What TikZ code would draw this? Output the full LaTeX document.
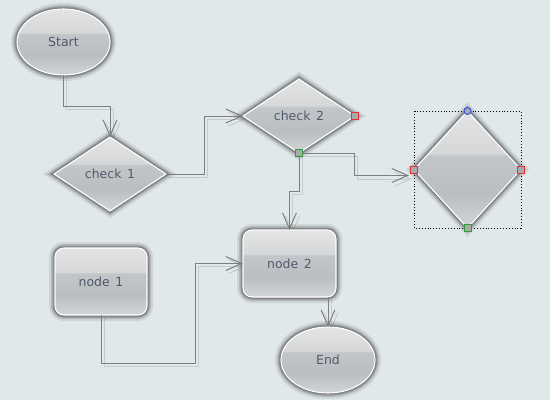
\documentclass[tikz,border=0pt]{standalone}
\usepackage{fontspec}
\setmainfont{DejaVu Sans}
\usetikzlibrary{shapes.geometric,arrows.meta,calc}
\definecolor{bg}{HTML}{E0E8EA}
\definecolor{gB}{HTML}{D2D5D7}
\definecolor{gM}{HTML}{BBBEC1}
\definecolor{gM2}{HTML}{C3C6C9}
\definecolor{gT2}{HTML}{D5D7D9}
\definecolor{gT}{HTML}{E3E4E5}
\definecolor{txt}{HTML}{505A6C}
\definecolor{lnc}{HTML}{7E8080}
\definecolor{lsh}{HTML}{C6CCCD}
\definecolor{hred}{HTML}{E03535}
\definecolor{hgreen}{HTML}{2F9A3A}
\definecolor{hblue}{HTML}{3A4FE0}
\definecolor{hfill}{HTML}{A8AAAC}
\pgfdeclareverticalshading{gloss}{100bp}{color(0bp)=(gB); color(25bp)=(gB); color(40bp)=(gM); color(56bp)=(gM2); color(57bp)=(gT2); color(75bp)=(gT); color(100bp)=(gT)}
\tikzset{
  glow/.style={preaction={draw=black!80, draw opacity=0.10, line width=12pt},
               preaction={draw=black!80, draw opacity=0.18, line width=8pt},
               preaction={draw=black!80, draw opacity=0.28, line width=5pt},
               preaction={draw=black!80, draw opacity=0.30, line width=2.5pt}},
  gshape/.style={glow, shading=gloss, draw=white, line width=1.1pt, text=txt,
                 font=\fontsize{12.5}{14}\selectfont, inner sep=0pt, outer sep=0pt},
  ellnode/.style={gshape, ellipse, minimum width=93pt, minimum height=66pt},
  dianode/.style={gshape, diamond, minimum width=112pt, minimum height=74pt},
  recnode/.style={gshape, rectangle, rounded corners=9pt, minimum width=92pt, minimum height=67pt},
  conn/.style={draw=lnc, line width=1pt, -{Straight Barb[length=16pt,width=14pt]}},
  cshadow/.style={draw=lsh, line width=1pt, -{Straight Barb[length=16pt,width=14pt]},
                  transform canvas={xshift=3pt,yshift=-3pt}},
  hsq/.style={draw=#1, line width=1pt, fill=hfill, minimum size=7pt, inner sep=0pt, rectangle},
  hci/.style={draw=#1, line width=1pt, fill=hfill, minimum size=7pt, inner sep=0pt, circle},
}
\begin{document}
\begin{tikzpicture}[x=1pt,y=-1pt]
\useasboundingbox (0,0) rectangle (550,400);
\fill[bg] (0,0) rectangle (550,400);

% connector shadows
\draw[cshadow] (63.5,75) -- ++(0,31) -| (110,137);
\draw[cshadow] (166,174) -- ++(38,0) |- (243,116);
\draw[cshadow] (299,153) -- ++(0,38) -| (289.5,230);
\draw[cshadow] (299,153) -- ++(55,0) |- (409,176);
\draw[cshadow] (101,315) -- ++(0,48) -- ++(94,0) |- (243,263.5);
\draw[cshadow] (328,297) -- (328,327);

% nodes
\node[ellnode] (start) at (63.5,42) {Start};
\node[dianode] (c1) at (110,174) {check\hspace{0.45em}1};
\node[dianode] (c2) at (299,116) {check\hspace{0.45em}2};
\node[dianode, minimum width=107pt, minimum height=117pt] (sel) at (467.5,169.5) {};
\node[recnode] (n1) at (101,281.5) {node\hspace{0.45em}1};
\node[recnode, minimum width=93pt] (n2) at (289.5,263.5) {node\hspace{0.45em}2};
\node[ellnode, minimum width=94pt] (end) at (328,360) {End};

% connectors
\draw[conn] (start.south) -- ++(0,31) -| (c1.north);
\draw[conn] (c1.east) -- ++(38,0) |- (c2.west);
\draw[conn] (c2.south) -- ++(0,38) -| (n2.north);
\draw[conn] (c2.south) -- ++(55,0) |- ($(sel.west)+(-5,6)$);
\draw[conn] (n1.south) -- ++(0,48) -- ++(94,0) |- (n2.west);
\draw[conn] (n2.south -| end.north) -- (end.north);

% selection box and handles
\draw[black, line width=0.9pt, dotted] (sel.west |- sel.north) rectangle (sel.east |- sel.south);
\node[hci=hblue] (h1) at (sel.north) {};
\node[hsq=hred] (h2) at (sel.west) {};
\node[hsq=hred] (h3) at (sel.east) {};
\node[hsq=hgreen] (h4) at (sel.south) {};
\node[hsq=hred] (h5) at (c2.east) {};
\node[hsq=hgreen] (h6) at (c2.south) {};
\end{tikzpicture}
\end{document}
